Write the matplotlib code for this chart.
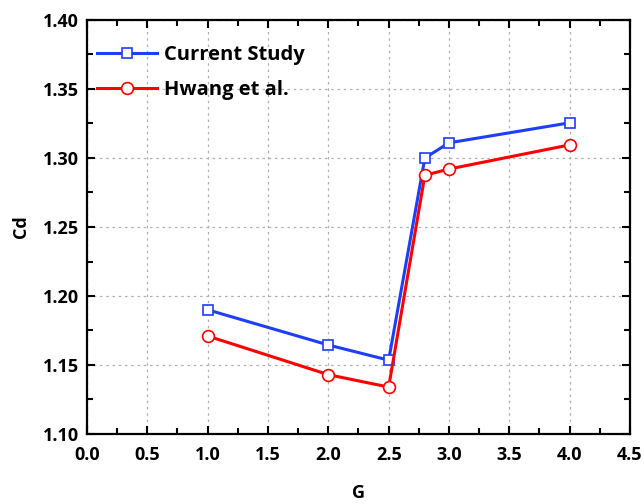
import matplotlib.pyplot as plt
from matplotlib.ticker import MultipleLocator

# drag coefficient against gap ratio
g_values = [1.0, 2.0, 2.5, 2.8, 3.0, 4.0]
cd_current = [1.190, 1.1645, 1.1535, 1.300, 1.311, 1.3255]
cd_hwang = [1.171, 1.143, 1.134, 1.2875, 1.292, 1.3095]

plt.rcParams['font.family'] = ['Open Sans', 'DejaVu Sans']
plt.rcParams['font.weight'] = 'bold'

fig = plt.figure(figsize=(6.44, 5.04), dpi=100)
ax = fig.add_axes([87 / 644, 70 / 504, 543 / 644, 414 / 504])

ax.plot(g_values, cd_current, color='#1f3dff', lw=2.2, marker='s',
        ms=7.5, mfc='white', mec='#1f3dff', mew=1.2, label='Current Study')
ax.plot(g_values, cd_hwang, color='#ff0000', lw=2.2, marker='o',
        ms=8.5, mfc='white', mec='#ff0000', mew=1.2, label='Hwang et al.')

ax.set_xlim(0.0, 4.5)
ax.set_ylim(1.10, 1.40)
ax.xaxis.set_major_locator(MultipleLocator(0.5))
ax.xaxis.set_minor_locator(MultipleLocator(0.25))
ax.yaxis.set_major_locator(MultipleLocator(0.05))
ax.yaxis.set_minor_locator(MultipleLocator(0.025))
ax.xaxis.set_major_formatter(plt.FormatStrFormatter('%.1f'))
ax.yaxis.set_major_formatter(plt.FormatStrFormatter('%.2f'))

ax.tick_params(which='both', direction='in', top=True, right=True,
               labelsize=13, width=1.5)
ax.tick_params(axis='x', which='major', pad=9)
ax.tick_params(axis='y', which='major', pad=6)
ax.tick_params(which='major', length=6)
ax.tick_params(which='minor', length=4)
for lab in ax.get_xticklabels() + ax.get_yticklabels():
    lab.set_fontweight('bold')
for spine in ax.spines.values():
    spine.set_linewidth(1.6)

ax.grid(True, which='major', color='#b0b0b0', ls=(0, (2, 3)), lw=0.9)
ax.set_axisbelow(True)

ax.set_xlabel('G', fontsize=13, fontweight='bold', labelpad=14)
ax.set_ylabel('Cd', fontsize=13, fontweight='bold', labelpad=9)

leg = ax.legend(loc='upper left', bbox_to_anchor=(0.0, 0.963), frameon=False,
                fontsize=14.5, handlelength=3.0, handletextpad=0.3,
                borderaxespad=0.3, borderpad=0.2, labelspacing=0.75)
for t in leg.get_texts():
    t.set_fontweight('bold')

fig.savefig('out.png', dpi=100)
